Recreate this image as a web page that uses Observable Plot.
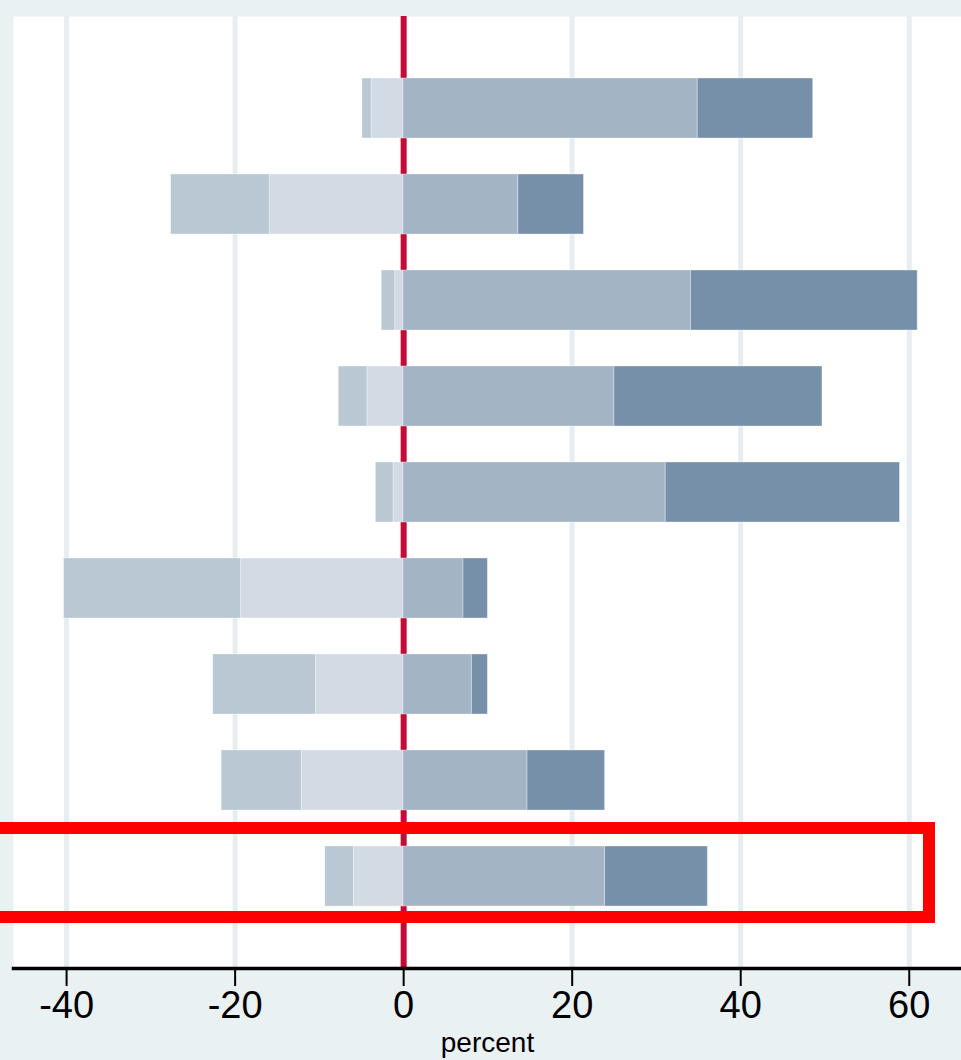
<!DOCTYPE html>
<html>
<head>
<meta charset="utf-8">
<script src="https://cdn.jsdelivr.net/npm/d3@7"></script>
<script src="https://cdn.jsdelivr.net/npm/@observablehq/plot@0.6"></script>
<style>
  html, body { margin: 0; padding: 0; background: #eaf1f3; }
  #chart svg { display: block; }
</style>
</head>
<body>
<div id="chart"></div>
<script>
// Rows (top to bottom)
const rows = ["1", "2", "3", "4", "5", "6", "7", "8", "9"];
// Segment values (percent)
const farNeg  = [1.1, 11.7, 1.6, 3.4, 2.1, 21.0, 12.2, 9.5, 3.4];
const nearNeg = [3.8, 15.9, 1.0, 4.3, 1.2, 19.3, 10.4, 12.1, 5.9];
const nearPos = [34.9, 13.6, 34.1, 25.0, 31.1, 7.1, 8.1, 14.7, 23.9];
const farPos  = [13.7, 7.8, 26.9, 24.7, 27.8, 2.9, 1.9, 9.2, 12.2];
const categories = ["nearNeg", "farNeg", "nearPos", "farPos"];
const colors = ["#d2dbe4", "#b9c8d3", "#a3b4c4", "#7790aa"];
const xTicks = [-40, -20, 0, 20, 40, 60];
const highlightRow = "9";
const highlightRight = 62.4;

const data = [];
rows.forEach((r, i) => {
  data.push({row: r, cat: "nearNeg", value: -nearNeg[i]});
  data.push({row: r, cat: "farNeg", value: -farNeg[i]});
  data.push({row: r, cat: "nearPos", value: nearPos[i]});
  data.push({row: r, cat: "farPos", value: farPos[i]});
});

const font = "'Liberation Sans', Arial, Helvetica, sans-serif";

const chart = Plot.plot({
  width: 961,
  height: 1060,
  marginLeft: 13,
  marginRight: 0,
  marginTop: 16,
  marginBottom: 92,
  style: {background: "#eaf1f3", fontFamily: font, color: "black"},
  x: {domain: [-46.3, 66.2], ticks: xTicks, label: null},
  y: {domain: rows, paddingInner: 0.38, paddingOuter: 0.62, axis: null},
  color: {domain: categories, range: colors},
  marks: [
    Plot.frame({fill: "white", stroke: null}),
    Plot.gridX(xTicks.filter(d => d !== 0), {stroke: "#e6eef1", strokeOpacity: 1, strokeWidth: 5}),
    Plot.ruleX([0], {stroke: "#c40a36", strokeWidth: 6}),
    Plot.barX(data, {x: "value", y: "row", fill: "cat", stroke: "white", strokeOpacity: 0.35, strokeWidth: 1}),
    Plot.barX([{row: highlightRow}], {x1: () => -60, x2: () => highlightRight, y: "row",
      insetTop: -18, insetBottom: -11, fill: "none", stroke: "#ff0000", strokeWidth: 12}),
    Plot.frame({anchor: "bottom", stroke: "black", strokeWidth: 3.5}),
    Plot.axisX(xTicks, {tickSize: 18, tickPadding: 5, fontSize: 38, strokeWidth: 2,
      tickFormat: d => String(d), label: null}),
    Plot.text(["percent"], {frameAnchor: "bottom", lineAnchor: "top", dy: 64, fontSize: 28, fill: "black"})
  ]
});
document.getElementById("chart").appendChild(chart);
</script>
</body>
</html>
